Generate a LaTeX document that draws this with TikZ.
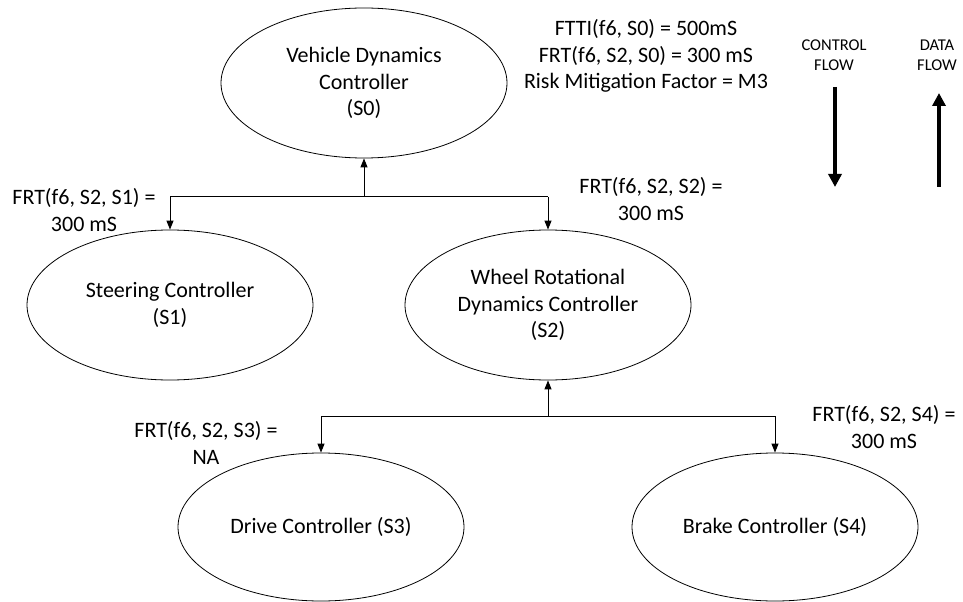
\documentclass[tikz,border=0pt]{standalone}
\usepackage{fontspec}
\setmainfont{Carlito}
\usetikzlibrary{shapes.geometric,arrows.meta}
\begin{document}
\begin{tikzpicture}[x=1bp,y=-1bp,
  ctrl/.style={draw=black, line width=0.8bp, ellipse, minimum width=286bp, minimum height=150bp, inner sep=0pt, align=center, font=\fontsize{22bp}{26.8bp}\selectfont},
  lbl/.style={align=center, inner sep=0pt, font=\fontsize{22bp}{26.8bp}\selectfont},
  legend/.style={align=center, inner sep=0pt, font=\fontsize{16.5bp}{20bp}\selectfont},
  conn/.style={line width=1bp},
  arr/.style={conn, -{Triangle[length=9bp,width=7bp]}},
  bigarr/.style={line width=3.5bp, -{Triangle[length=13bp,width=13bp]}}]
\useasboundingbox (0,0) rectangle (963,602);

% controllers
\node[ctrl] (S0) at (364,83) {Vehicle Dynamics\\Controller\\(S0)};
\node[ctrl] (S1) at (170,305) {Steering Controller\\(S1)};
\node[ctrl] (S2) at (548,305) {Wheel Rotational\\Dynamics Controller\\(S2)};
\node[ctrl, minimum height=148bp] (S3) at (321,527) {Drive Controller (S3)};
\node[ctrl, minimum height=148bp] (S4) at (775,527) {Brake Controller (S4)};

% junctions
\coordinate (j0) at (364,197);
\coordinate (b1) at (170,197);
\coordinate (b2) at (548,197);
\coordinate (j2) at (548,416);
\coordinate (b3) at (321,416);
\coordinate (b4) at (775,416);

\draw[conn] (b1) -- (b2);
\draw[arr] (j0) -- (S0.south);
\draw[arr] (b1) -- (S1.north);
\draw[arr] (b2) -- (S2.north);

\draw[conn] (b3) -- (b4);
\draw[arr] (j2) -- (S2.south);
\draw[arr] (b3) -- (S3.north);
\draw[arr] (b4) -- (S4.north);

% labels
\node[lbl] (fttilbl) at (646,56) {FTTI(f6, S0) = 500mS\\FRT(f6, S2, S0) = 300 mS\\Risk Mitigation Factor = M3};
\node[lbl] (l1) at (84,210) {FRT(f6, S2, S1) =\\300 mS};
\node[lbl] (l2) at (651,199) {FRT(f6, S2, S2) =\\300 mS};
\node[lbl] (l3) at (206,443) {FRT(f6, S2, S3) =\\NA};
\node[lbl] (l4) at (884,427) {FRT(f6, S2, S4) =\\300 mS};

% legend
\node[legend] (cf) at (834,55) {CONTROL\\FLOW};
\node[legend] (df) at (937,55) {DATA\\FLOW};
\coordinate (cfa) at (835,87);
\coordinate (cfb) at (835,187);
\coordinate (dfa) at (939,187);
\coordinate (dfb) at (939,93);
\draw[bigarr] (cfa) -- (cfb);
\draw[bigarr] (dfa) -- (dfb);
\end{tikzpicture}
\end{document}
